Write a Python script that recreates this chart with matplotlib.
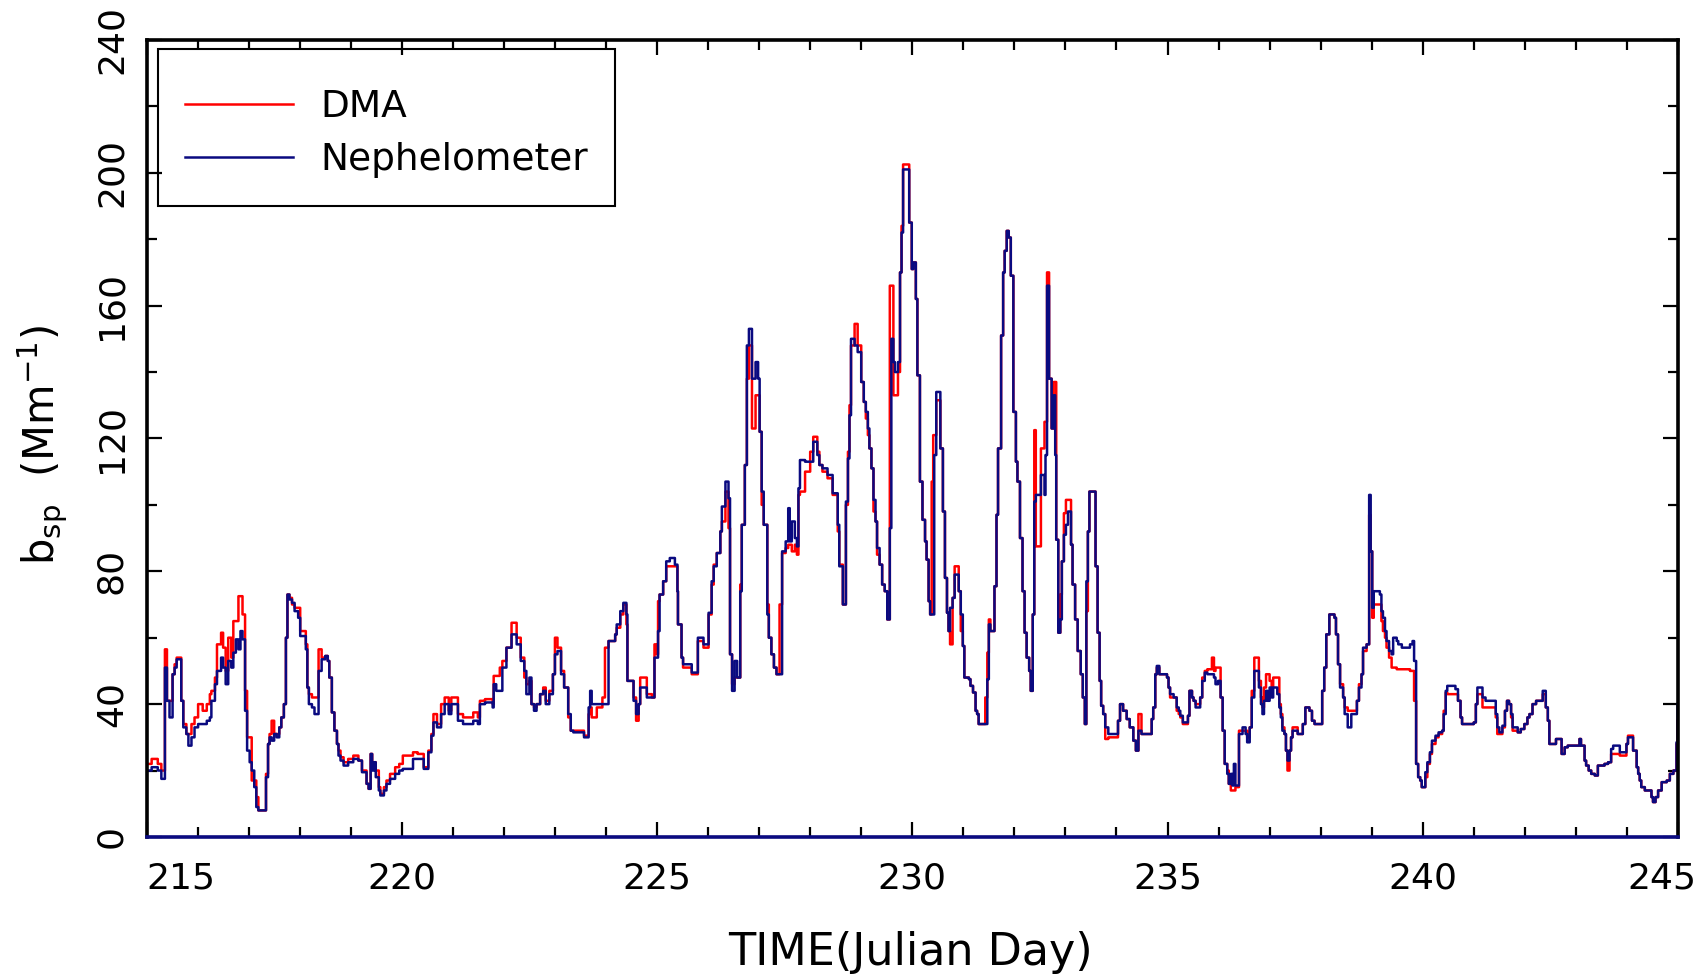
import numpy as np
import matplotlib
matplotlib.use('Agg')
import matplotlib.pyplot as plt
import matplotlib.transforms as mtransforms
from matplotlib.patches import Rectangle

# Julian day breakpoints, nephelometer and DMA b_sp (Mm^-1), step data
day = [215.00, 215.10, 215.22, 215.29, 215.36, 215.40, 215.45, 215.51, 215.55, 215.59,
       215.68, 215.72, 215.78, 215.82, 215.88, 215.94, 216.01, 216.10, 216.18, 216.24,
       216.27, 216.34, 216.38, 216.46, 216.50, 216.55, 216.60, 216.66, 216.70, 216.75,
       216.80, 216.84, 216.88, 216.93, 216.97, 217.02, 217.06, 217.11, 217.15, 217.19,
       217.34, 217.38, 217.41, 217.45, 217.50, 217.55, 217.60, 217.64, 217.69, 217.73,
       217.76, 217.80, 217.85, 217.90, 217.97, 218.01, 218.12, 218.15, 218.18, 218.24,
       218.29, 218.37, 218.43, 218.50, 218.55, 218.58, 218.63, 218.68, 218.73, 218.76,
       218.80, 218.86, 218.95, 219.05, 219.15, 219.22, 219.31, 219.35, 219.39, 219.42,
       219.46, 219.49, 219.55, 219.58, 219.65, 219.70, 219.77, 219.87, 219.95, 220.02,
       220.22, 220.31, 220.43, 220.52, 220.58, 220.62, 220.69, 220.77, 220.84, 220.92,
       220.97, 221.10, 221.20, 221.40, 221.49, 221.53, 221.63, 221.78, 221.80, 221.85,
       221.92, 221.97, 222.05, 222.15, 222.25, 222.33, 222.40, 222.44, 222.50, 222.54,
       222.59, 222.64, 222.71, 222.77, 222.82, 222.89, 222.96, 223.00, 223.05, 223.12,
       223.18, 223.26, 223.31, 223.36, 223.57, 223.66, 223.69, 223.72, 223.82, 223.93,
       223.98, 224.05, 224.18, 224.21, 224.28, 224.34, 224.40, 224.42, 224.54, 224.59,
       224.64, 224.67, 224.80, 224.90, 224.95, 224.99, 225.02, 225.05, 225.12, 225.18,
       225.25, 225.35, 225.40, 225.41, 225.48, 225.51, 225.61, 225.68, 225.80, 225.91,
       226.01, 226.07, 226.11, 226.17, 226.24, 226.27, 226.34, 226.40, 226.43, 226.47,
       226.52, 226.57, 226.63, 226.66, 226.72, 226.76, 226.80, 226.86, 226.93, 226.98,
       227.01, 227.05, 227.09, 227.16, 227.19, 227.24, 227.29, 227.34, 227.40, 227.45,
       227.52, 227.57, 227.60, 227.64, 227.70, 227.74, 227.77, 227.80, 227.90, 228.00,
       228.06, 228.14, 228.18, 228.24, 228.34, 228.44, 228.54, 228.57, 228.64, 228.70,
       228.74, 228.77, 228.80, 228.87, 228.93, 229.00, 229.05, 229.09, 229.13, 229.16,
       229.20, 229.24, 229.28, 229.31, 229.36, 229.41, 229.46, 229.51, 229.56, 229.59,
       229.63, 229.66, 229.72, 229.76, 229.79, 229.82, 229.94, 229.99, 230.02, 230.07,
       230.10, 230.15, 230.20, 230.25, 230.28, 230.32, 230.35, 230.38, 230.41, 230.43,
       230.47, 230.55, 230.60, 230.64, 230.68, 230.71, 230.74, 230.79, 230.83, 230.91,
       230.95, 230.99, 231.02, 231.11, 231.14, 231.19, 231.24, 231.27, 231.30, 231.43,
       231.47, 231.50, 231.53, 231.61, 231.65, 231.68, 231.74, 231.78, 231.81, 231.85,
       231.89, 231.93, 231.98, 232.03, 232.06, 232.11, 232.16, 232.20, 232.24, 232.29,
       232.32, 232.36, 232.39, 232.42, 232.52, 232.59, 232.61, 232.64, 232.68, 232.73,
       232.77, 232.80, 232.82, 232.86, 232.90, 232.93, 232.97, 233.01, 233.05, 233.11,
       233.14, 233.19, 233.24, 233.30, 233.34, 233.38, 233.41, 233.44, 233.47, 233.56,
       233.59, 233.63, 233.67, 233.70, 233.74, 233.78, 233.84, 234.03, 234.07, 234.13,
       234.20, 234.26, 234.33, 234.38, 234.43, 234.49, 234.69, 234.72, 234.76, 234.79,
       234.84, 234.99, 235.02, 235.05, 235.12, 235.18, 235.22, 235.25, 235.30, 235.40,
       235.43, 235.48, 235.51, 235.55, 235.64, 235.68, 235.73, 235.78, 235.87, 235.91,
       235.94, 235.99, 236.04, 236.08, 236.12, 236.17, 236.20, 236.24, 236.27, 236.30,
       236.33, 236.40, 236.47, 236.53, 236.56, 236.61, 236.65, 236.70, 236.79, 236.83,
       236.86, 236.89, 236.93, 236.96, 237.00, 237.04, 237.07, 237.15, 237.19, 237.22,
       237.25, 237.29, 237.32, 237.35, 237.39, 237.42, 237.45, 237.55, 237.61, 237.65,
       237.70, 237.78, 237.83, 237.88, 238.03, 238.07, 238.11, 238.17, 238.27, 238.30,
       238.34, 238.38, 238.44, 238.47, 238.53, 238.60, 238.67, 238.71, 238.75, 238.80,
       238.83, 238.90, 238.95, 238.98, 239.01, 239.04, 239.16, 239.19, 239.22, 239.26,
       239.29, 239.34, 239.39, 239.42, 239.49, 239.52, 239.59, 239.75, 239.80, 239.83,
       239.87, 239.91, 239.95, 239.98, 240.05, 240.09, 240.14, 240.18, 240.25, 240.31,
       240.38, 240.41, 240.45, 240.48, 240.64, 240.69, 240.74, 240.77, 241.00, 241.04,
       241.07, 241.17, 241.23, 241.43, 241.46, 241.50, 241.56, 241.61, 241.65, 241.69,
       241.73, 241.76, 241.86, 241.92, 241.99, 242.05, 242.09, 242.15, 242.22, 242.32,
       242.35, 242.41, 242.45, 242.48, 242.61, 242.72, 242.78, 242.84, 243.07, 243.10,
       243.17, 243.20, 243.25, 243.30, 243.37, 243.43, 243.56, 243.63, 243.69, 243.73,
       243.86, 243.99, 244.02, 244.12, 244.19, 244.22, 244.25, 244.28, 244.35, 244.48,
       244.51, 244.56, 244.61, 244.68, 244.78, 244.84, 244.91, 244.97, 244.99]

neph = [20, 21, 20, 17.5, 51, 41, 36, 49, 51, 53.5,
        41, 33, 31, 27.5, 30, 33, 34, 34, 35, 36,
        41, 46, 50, 54, 51, 46, 53, 51, 55.5, 59.5,
        56.5, 62, 59.5, 38, 26, 22.5, 20, 15, 9, 8,
        18, 28, 30, 29, 31, 30, 33, 36, 40, 60,
        73, 71.5, 70.5, 68, 66, 60.5, 56.5, 45, 40, 39,
        37, 50, 53.5, 54.5, 53, 48, 37.5, 32, 28, 24.5,
        23, 21.5, 22.5, 23.5, 23, 19.5, 16, 14.5, 25, 20,
        22.5, 18, 14, 12.5, 14, 16, 17.5, 19, 20, 20.5,
        23.5, 23.5, 20.5, 25.5, 30.5, 34.5, 33, 37, 40, 37,
        40, 35, 34, 35, 34, 40, 40.5, 39, 46, 44,
        44, 51, 57, 61, 58, 53, 50, 43, 48, 40,
        38, 40, 43, 44, 40, 43, 49, 55, 56, 49,
        45, 37, 32, 31.5, 30, 39, 44, 40, 40, 40,
        40, 59, 61, 64, 68, 70.5, 67, 47, 41, 37,
        40, 45, 42, 42, 54, 54, 62, 73, 77, 83,
        84, 82, 74, 64, 54, 52, 52, 49.5, 60, 58,
        67.5, 77, 81.5, 85.5, 92, 99.5, 107, 102, 55, 44,
        53, 48, 74, 94, 112, 148, 153, 138, 143, 138,
        122, 104, 94, 67, 60, 55, 51, 49, 49, 86,
        89, 99, 89, 95, 90, 87.5, 105, 113.5, 113, 113,
        119, 115, 112, 111, 109, 103.5, 94, 81.5, 70, 101,
        114, 127, 150, 148, 146, 137, 131, 128, 123, 117,
        111, 101.5, 95, 87, 82, 76, 74, 65.5, 93, 150,
        143, 140, 143, 170, 182, 201, 185, 171, 173, 162,
        139, 107, 95.5, 89, 83.5, 71, 67, 67, 67, 115,
        134, 117, 98, 78, 67.5, 62, 69, 72, 79, 74,
        67, 57.5, 48, 47.5, 45.5, 43.5, 38, 37, 34, 34,
        47.5, 64, 62, 75.5, 97, 117, 151, 170, 176.5, 182.5,
        180.5, 169, 128, 113, 107, 90, 74, 61.5, 54, 50,
        44, 67, 101, 103, 109, 103, 115, 166, 138, 123,
        133, 115, 89.5, 61.5, 65.5, 83, 91, 94, 98, 88,
        76, 65.5, 56, 49, 42, 34, 77, 92, 104, 104,
        81.5, 61.5, 47, 39.5, 37, 33, 31, 35, 40, 38,
        35.5, 33, 29, 26, 32, 31, 35.5, 39, 49, 51.5,
        49, 48, 45, 43, 42, 39, 38, 36.5, 34.5, 36.5,
        44, 42, 41, 39, 42, 47, 49.5, 49, 49, 48,
        46, 47, 42, 32, 22, 19, 16, 19, 15.5, 22,
        15.5, 31, 33, 31, 28.5, 33, 42, 50, 45, 40,
        37, 41, 44, 41, 45, 42, 45, 43, 39, 36,
        32, 31, 26, 23, 26, 30, 32, 31, 31, 34,
        39, 38, 35, 34, 44, 51, 61, 67, 66, 61,
        52, 45, 42, 37, 33, 37, 37, 41, 45, 49,
        57, 58, 103, 86, 69, 74, 73, 68, 66, 62,
        59, 56, 55, 60, 59, 58, 57, 58, 59, 53,
        22, 18, 17, 15, 19.5, 22.5, 25.5, 29, 30.5, 31.5,
        32, 37, 44, 45.5, 44.5, 41, 36, 34, 34.5, 40,
        45, 42, 41, 37, 33, 31.5, 33.5, 38, 41, 40,
        37, 33, 31.5, 32.5, 34, 36, 37, 40, 41, 41,
        44, 39, 35, 28, 29.5, 25, 27, 27.5, 29.5, 27.5,
        23, 21.5, 20, 19, 18.5, 21.5, 22, 22.5, 26.5, 27.5,
        25.5, 28, 30, 26, 21, 19, 17, 15, 14, 12,
        10.5, 12, 14, 16.5, 17, 19, 20, 28.5, 40]

dma = [22, 23.5, 22, 20, 56.5, 41, 41, 49, 52, 54,
       41, 34, 31, 31, 34, 36, 40, 38, 40, 43,
       44, 48, 58, 61.5, 57, 50, 60, 54, 65, 65,
       72.5, 72.5, 67, 44, 30, 30, 17, 17, 12, 8,
       19, 28, 31, 35, 31, 31, 33, 36, 40, 60,
       73, 72, 70, 69, 69, 62, 58, 45, 43, 42,
       42, 56.5, 54, 54.5, 53, 48, 37.5, 32, 28, 26,
       24, 22.5, 23.5, 24.5, 23, 20, 16, 14.5, 25, 21,
       22.5, 20, 15, 13, 15, 17, 19, 21, 22, 24.5,
       25.5, 25, 21, 26, 31, 37, 34, 40, 42, 38,
       42, 37, 36, 37.5, 36, 41, 41.5, 40, 48.5, 48.5,
       51, 53, 57, 64.5, 60, 54, 48, 46, 47, 40,
       39, 40, 43, 45, 41, 44, 49, 60, 57, 50,
       45, 36, 32, 32, 30.5, 37, 39, 36, 39, 42,
       57, 59, 61, 63, 67, 70, 64, 47, 42, 35,
       40, 48, 43, 42, 58, 55, 71, 73, 77, 81.5,
       81.5, 81.5, 74, 64, 54, 51, 51, 49, 59, 57,
       67, 76, 82, 85.5, 92, 95, 104, 93, 55, 46,
       48, 48, 76, 94, 112, 138, 148, 123, 133, 133,
       122, 100, 94, 70, 60, 55, 51, 49, 70, 85.5,
       87, 88, 88, 86, 88, 85, 103, 104, 110, 116,
       120.5, 116, 112, 110, 108, 103, 92, 82, 70, 100,
       116, 130, 148, 154.5, 148, 137, 131, 126, 121, 117,
       111, 98, 95, 85, 82, 76, 74, 65.5, 166, 166,
       133, 133, 140, 170, 184, 202.5, 185, 171, 173, 162,
       139, 107, 95.5, 89, 83.5, 71, 67, 107, 121, 121,
       131.5, 117, 98, 78, 67.5, 62, 58, 72, 81.5, 74,
       62, 57.5, 48, 47.5, 45.5, 43.5, 38, 37, 34, 42,
       55.5, 65.5, 62, 75.5, 97, 117, 151, 170, 176.5, 182.5,
       180.5, 169, 128, 113, 107, 90, 74, 61.5, 54, 50,
       44, 67, 122.5, 87.5, 117, 125, 125, 170, 138, 123,
       137, 137, 89.5, 61.5, 73, 83, 97.5, 101.5, 101.5, 88,
       76, 65.5, 56, 49, 42, 34, 68, 92, 104, 104,
       81.5, 61.5, 47, 39.5, 37, 29.5, 30, 35, 40, 38,
       35.5, 33, 29, 26, 37, 31, 35.5, 39, 49, 51,
       49, 48, 45, 42, 42, 38, 37, 36, 34, 36.5,
       44, 42, 41, 40, 42, 48, 50, 50.5, 54, 50,
       51, 51, 42, 32, 22, 20, 16, 14, 14, 14,
       15, 32, 32, 32, 30, 33, 44, 54, 47, 42,
       39, 45, 49, 49, 47, 45, 48, 48, 40, 37,
       33, 31, 26, 20, 26, 30, 33, 31, 31, 34,
       39, 38, 35, 34, 44, 51, 61, 67, 66, 61,
       52, 46, 42, 39, 38, 38, 38, 41, 46, 49,
       56, 58, 97, 86, 66, 70, 70, 65, 62, 60,
       57, 54, 51, 51, 50.5, 50.5, 50.5, 50, 50, 41,
       22, 18, 17, 15, 18, 22, 25, 28, 30, 31,
       32, 38, 43.5, 43, 43, 41, 36, 34, 34.5, 40,
       43, 39, 39, 36, 31, 31, 33, 38, 41, 40,
       36, 32, 31.5, 32.5, 34, 36, 37, 40, 41, 41,
       43, 39, 35, 28, 29.5, 25, 27, 27.5, 29.5, 27.5,
       23, 21.5, 20, 19, 18.5, 21.5, 22, 22.5, 25, 25,
       24.5, 28, 30.5, 26, 21, 19, 17, 15, 14, 12,
       10.5, 12, 14, 16.5, 17, 19, 20, 28, 35]

plt.rcParams['font.family'] = ['DejaVu Sans']

fig = plt.figure(figsize=(17.02, 9.74), dpi=100)
ax = fig.add_axes([0.0861, 0.1407, 0.8998, 0.8183])

ax.plot(day, dma, drawstyle='steps-post', color='#ff0000', lw=1.8, label='DMA')
ax.plot(day, neph, drawstyle='steps-post', color='#0a0a80', lw=1.8, label='Nephelometer')

ax.set_xlim(215, 245)
ax.set_ylim(0, 240)
ax.set_xticks(np.arange(215, 246, 5))
ax.set_xticks(np.arange(215, 246, 1), minor=True)
ax.set_yticks(np.arange(0, 241, 40))
ax.set_yticks(np.arange(0, 241, 20), minor=True)

ax.tick_params(which='both', direction='in', top=True, right=True, width=1.6, colors='black')
ax.tick_params(which='major', length=10.5)
ax.tick_params(which='minor', length=7)
ax.tick_params(axis='x', labelsize=26, pad=18)
ax.tick_params(axis='y', labelsize=26, pad=13, labelrotation=90)
for lab in ax.get_yticklabels():
    lab.set_va('center')
xlabs = ax.get_xticklabels()
xlabs[0].set_ha('left')
# last label sits at the right edge; nudge it left so it stays on the canvas
xlabs[-1].set_transform(xlabs[-1].get_transform() +
                        mtransforms.ScaledTranslation(-16 / 100, 0, fig.dpi_scale_trans))

for s in ax.spines.values():
    s.set_linewidth(2.6)
ax.spines['bottom'].set_color('#0a0a80')

# legend entries without frame, box drawn separately (taller than wide padding)
leg = ax.legend(loc='upper left', bbox_to_anchor=(0.0127, 0.962), borderaxespad=0,
                fontsize=27, frameon=False, handlelength=2.9, handletextpad=0.72,
                borderpad=0.5, labelspacing=0.45)
ax.add_patch(Rectangle((0.0075, 0.7917), 0.2985, 0.197, transform=ax.transAxes,
                       fill=False, edgecolor='black', lw=1.5, zorder=5, clip_on=False))

fig.text(910 / 1702, 1 - 965 / 974, 'TIME(Julian Day)', fontsize=32,
         ha='center', va='baseline')
fig.text(43 / 1702, 1 - 445 / 974,
         r'b$_{\mathregular{sp}}$  (Mm$^{\mathregular{-1}}$)',
         fontsize=30, rotation=90, ha='center', va='center')

fig.savefig('out.png', dpi=100)
